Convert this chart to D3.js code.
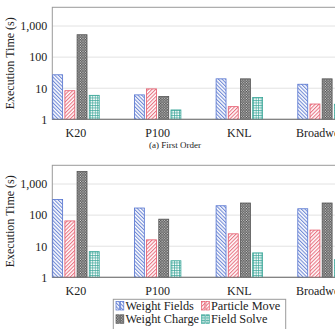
<!DOCTYPE html>
<html><head><meta charset="utf-8">
<script src="https://cdn.jsdelivr.net/npm/d3@7"></script>
<style>
html,body{margin:0;padding:0;background:#fff;overflow:hidden;}
svg{display:block;}
</style></head>
<body>
<script>
const categories = ["K20", "P100", "KNL", "Broadwell"];
const seriesNames = ["Weight Fields", "Particle Move", "Weight Charge", "Field Solve"];
const yTicks = [1, 10, 100, 1000];
// (a) First Order
const firstWeightFields = [27, 6.1, 20, 13.4];
const firstParticleMove = [8.3, 9.5, 2.55, 3.1];
const firstWeightCharge = [525, 5.4, 20, 20];
const firstFieldSolve = [5.9, 2.0, 5.0, 3.05];
// second panel
const secondWeightFields = [318, 169, 200, 160];
const secondParticleMove = [65, 16, 25, 33];
const secondWeightCharge = [2550, 74, 245, 245];
const secondFieldSolve = [6.7, 3.4, 6.1, 3.7];

const FONT = "'Liberation Serif', 'DejaVu Serif', serif";
const W = 335, H = 329;
const svg = d3.select("body").append("svg").attr("width", W).attr("height", H)
  .attr("font-family", FONT);
const defs = svg.append("defs");

const colors = ["#5372cf", "#e4586a", "#555555", "#37a597"];

function linePattern(id, color, angle) {
  const p = defs.append("pattern").attr("id", id).attr("patternUnits", "userSpaceOnUse")
    .attr("width", 2.6).attr("height", 2.6).attr("patternTransform", `rotate(${angle})`);
  p.append("rect").attr("width", 2.6).attr("height", 2.6).attr("fill", "#fff");
  p.append("line").attr("x1", 0.6).attr("y1", 0).attr("x2", 0.6).attr("y2", 2.6)
    .attr("stroke", color).attr("stroke-width", 0.9);
}
linePattern("p0", colors[0], -45);
linePattern("p1", colors[1], 45);
{
  const p = defs.append("pattern").attr("id", "p2").attr("patternUnits", "userSpaceOnUse")
    .attr("width", 2.6).attr("height", 2.6);
  p.append("rect").attr("width", 2.6).attr("height", 2.6).attr("fill", "#505050");
  p.append("rect").attr("x", 0.2).attr("y", 0.2).attr("width", 1.1).attr("height", 1.1).attr("fill", "#e0e0e0");
  p.append("rect").attr("x", 1.5).attr("y", 1.5).attr("width", 1.1).attr("height", 1.1).attr("fill", "#e0e0e0");
}
{
  const p = defs.append("pattern").attr("id", "p3").attr("patternUnits", "userSpaceOnUse")
    .attr("width", 2.5).attr("height", 2.5);
  p.append("rect").attr("width", 2.5).attr("height", 2.5).attr("fill", "#fff");
  p.append("line").attr("x1", 0).attr("y1", 0.5).attr("x2", 2.5).attr("y2", 0.5).attr("stroke", colors[3]).attr("stroke-width", 0.7);
  p.append("line").attr("x1", 0.5).attr("y1", 0).attr("x2", 0.5).attr("y2", 2.5).attr("stroke", colors[3]).attr("stroke-width", 0.7);
}

const x0 = d3.scaleBand().domain(categories).range([52.3, 344.7]).paddingInner(0.421).paddingOuter(0);
const x1 = d3.scaleBand().domain(seriesNames).range([0, x0.bandwidth()]).paddingInner(0.12).paddingOuter(0);

function styleText(sel, size) {
  sel.attr("font-family", FONT).attr("font-size", size).attr("fill", "#222")
     .style("font-family", FONT).style("font-size", size + "px");
}

function panel(top, bottom, data, caption) {
  const y = d3.scaleLog().domain([1, 4000]).range([bottom, top]);
  const g = svg.append("g");
  g.selectAll("line.grid").data(yTicks.slice(1)).enter().append("line")
    .attr("x1", 52.3).attr("x2", 344.7).attr("y1", d => y(d)).attr("y2", d => y(d))
    .attr("stroke", "#e2e2e2").attr("stroke-width", 1);
  g.append("rect").attr("x", 52.3).attr("y", top).attr("width", 344.7 - 52.3).attr("height", bottom - top)
    .attr("fill", "none").attr("stroke", "#9a9a9a").attr("stroke-width", 1);
  const ax = d3.axisLeft(y).tickValues(yTicks).tickFormat(d3.format(",")).tickSize(0).tickPadding(5);
  const ag = g.append("g").attr("transform", "translate(52.3,0)").call(ax);
  ag.attr("font-family", FONT).attr("font-size", 12);
  ag.select(".domain").remove();
  styleText(ag.selectAll("text"), 12);
  const rows = categories.map((c, i) => seriesNames.map((s, j) => ({ c, s, j, v: data[j][i] })));
  g.selectAll("g.grp").data(rows).enter().append("g")
    .attr("transform", (d, i) => `translate(${x0(categories[i])},0)`)
    .selectAll("rect").data(d => d).enter().append("rect")
    .attr("x", d => x1(d.s) + 0.4).attr("width", x1.bandwidth() - 0.8)
    .attr("y", d => y(d.v)).attr("height", d => bottom - y(d.v))
    .attr("fill", d => `url(#p${d.j})`).attr("stroke", d => colors[d.j]).attr("stroke-width", 0.8);
  g.append("line").attr("x1", 52.3).attr("x2", 344.7).attr("y1", bottom).attr("y2", bottom)
    .attr("stroke", "#7a7a7a").attr("stroke-width", 1);
  const xa = d3.axisBottom(x0).tickSize(0).tickPadding(9);
  const xg = g.append("g").attr("transform", `translate(0,${bottom})`).call(xa);
  xg.attr("font-family", FONT).attr("font-size", 12);
  xg.select(".domain").remove();
  styleText(xg.selectAll("text"), 12);
  const yt = g.append("text").attr("transform", `translate(14,${(top + bottom) / 2}) rotate(-90)`)
    .attr("text-anchor", "middle").text("Execution Time (s)");
  styleText(yt, 12);
  if (caption) {
    const ct = g.append("text").attr("x", 175).attr("y", bottom + 28.5).attr("text-anchor", "middle").text(caption);
    styleText(ct, 9);
  }
}

panel(7.3, 119.3, [firstWeightFields, firstParticleMove, firstWeightCharge, firstFieldSolve], "(a) First Order");
panel(165.3, 277.3, [secondWeightFields, secondParticleMove, secondWeightCharge, secondFieldSolve], null);

const lg = svg.append("g");
lg.append("rect").attr("x", 113.3).attr("y", 299.3).attr("width", 285.7 - 113.3).attr("height", 40)
  .attr("fill", "#fff").attr("stroke", "#9a9a9a").attr("stroke-width", 1);
const legPos = [[116, 310], [201.5, 310], [116, 323.3], [201.5, 323.3]];
seriesNames.forEach((s, j) => {
  const [lx, ly] = legPos[j];
  [0, 4.4].forEach(dx => {
    lg.append("rect").attr("x", lx + dx).attr("y", ly - 8.5).attr("width", 3.4).attr("height", 8.5)
      .attr("fill", `url(#p${j})`).attr("stroke", colors[j]).attr("stroke-width", 0.7);
  });
  const t = lg.append("text").attr("x", lx + 9.5).attr("y", ly).text(s);
  styleText(t, 12.3);
});
</script>
</body></html>
